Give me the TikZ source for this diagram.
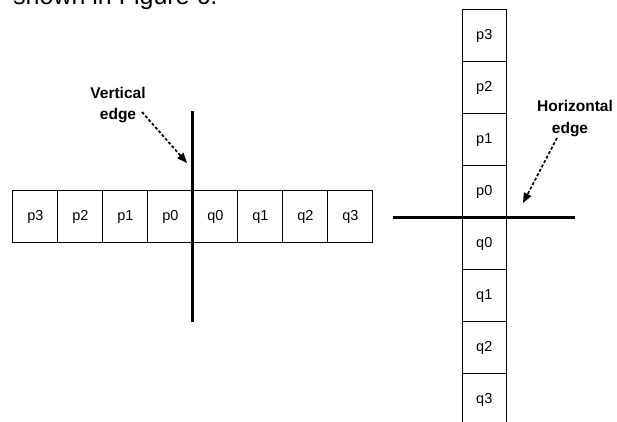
\documentclass[tikz,border=0pt]{standalone}
\usepackage{fontspec}
\setmainfont{Liberation Sans}
\usetikzlibrary{arrows.meta}
\tikzset{
  cell/.style={draw, line width=1.1pt, minimum width=45pt, minimum height=52pt, inner sep=0pt, font=\fontsize{14.5}{16}\selectfont, anchor=north west},
  vcell/.style={cell, minimum width=44pt},
  edgeline/.style={line width=3pt},
  lbl/.style={font=\fontsize{15.5}{18}\bfseries, inner sep=0pt, anchor=base},
  pointer/.style={line width=1.7pt, dash pattern=on 3pt off 2pt, -{Triangle[length=10pt,width=8pt]}}
}
\begin{document}
\begin{tikzpicture}[x=1pt,y=-1pt]
\useasboundingbox (0,0) rectangle (617,421);
\clip (0,0) rectangle (617,421);
% cropped text at top
\node[font=\fontsize{25}{28}\selectfont, inner sep=0pt, anchor=base west] (top) at (13,4.5) {shown in Figure 6.};
% horizontal row (vertical edge)
\foreach \t [count=\i from 0] in {p3,p2,p1,p0,q0,q1,q2,q3}{
  \node[cell] (r\t) at (12.3+45*\i,190) {\t};
}
\coordinate (vtop) at (192.3,111);
\coordinate (vbot) at (192.3,322);
\draw[edgeline] (vtop) -- (vbot);
\node[lbl] (vl1) at (118,98) {Vertical};
\node[lbl] (vl2) at (118,119.5) {edge};
\coordinate (va) at (142,112);
\coordinate (vb) at (187,163);
\draw[pointer] (va) -- (vb);
% vertical column (horizontal edge)
\foreach \t [count=\i from 0] in {p3,p2,p1,p0,q0,q1,q2,q3}{
  \node[vcell] (c\t) at (461.7,9+52*\i) {\t};
}
\coordinate (hl) at (393,217);
\coordinate (hr) at (575,217);
\draw[edgeline] (hl) -- (hr);
\node[lbl] (hl1) at (575,111) {Horizontal};
\node[lbl] (hl2) at (570,133) {edge};
\coordinate (ha) at (557,138);
\coordinate (hb) at (523,203);
\draw[pointer] (ha) -- (hb);
\end{tikzpicture}
\end{document}
